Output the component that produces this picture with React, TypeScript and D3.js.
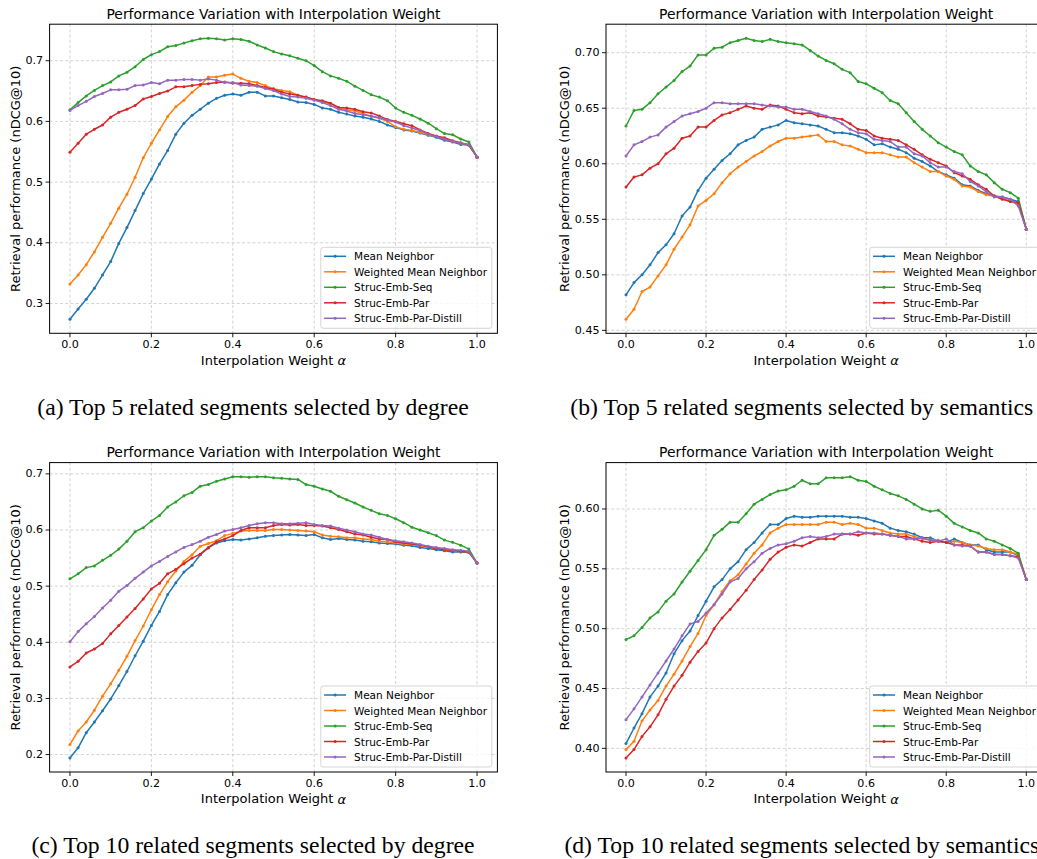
import React from 'react';
import * as d3 from 'd3';

// ---------- data ----------
const ALPHA = [0.0, 0.02, 0.04, 0.06, 0.08, 0.1, 0.12, 0.14, 0.16, 0.18, 0.2, 0.22, 0.24, 0.26, 0.28, 0.3, 0.32, 0.34, 0.36, 0.38, 0.4, 0.42, 0.44, 0.46, 0.48, 0.5, 0.52, 0.54, 0.56, 0.58, 0.6, 0.62, 0.64, 0.66, 0.68, 0.7, 0.72, 0.74, 0.76, 0.78, 0.8, 0.82, 0.84, 0.86, 0.88, 0.9, 0.92, 0.94, 0.96, 0.98, 1.0];
const SERIES_NAMES = ['Mean Neighbor', 'Weighted Mean Neighbor', 'Struc-Emb-Seq', 'Struc-Emb-Par', 'Struc-Emb-Par-Distill'];
const COLORS = ['#1f77b4', '#ff7f0e', '#2ca02c', '#d62728', '#9467bd'];
const X_TICKS = [0.0, 0.2, 0.4, 0.6, 0.8, 1.0];
const TITLE = 'Performance Variation with Interpolation Weight';
const Y_LABEL = 'Retrieval performance (nDCG@10)';
const X_LABEL = 'Interpolation Weight ';
const CAPTIONS = [
  '(a) Top 5 related segments selected by degree',
  '(b) Top 5 related segments selected by semantics',
  '(c) Top 10 related segments selected by degree',
  '(d) Top 10 related segments selected by semantics',
];

// (a) Top 5 by degree
const aMean = [0.274, 0.291, 0.307, 0.325, 0.347, 0.369, 0.399, 0.425, 0.453, 0.481, 0.505, 0.530, 0.552, 0.579, 0.597, 0.610, 0.620, 0.630, 0.638, 0.643, 0.645, 0.643, 0.648, 0.648, 0.642, 0.642, 0.639, 0.636, 0.632, 0.631, 0.628, 0.622, 0.620, 0.615, 0.612, 0.609, 0.607, 0.604, 0.600, 0.594, 0.590, 0.586, 0.584, 0.581, 0.577, 0.574, 0.569, 0.566, 0.562, 0.561, 0.541];
const aWeighted = [0.332, 0.347, 0.364, 0.385, 0.409, 0.432, 0.457, 0.480, 0.508, 0.540, 0.564, 0.586, 0.608, 0.624, 0.635, 0.648, 0.659, 0.673, 0.673, 0.676, 0.678, 0.671, 0.666, 0.664, 0.659, 0.654, 0.651, 0.649, 0.643, 0.640, 0.636, 0.632, 0.629, 0.622, 0.619, 0.617, 0.613, 0.608, 0.605, 0.600, 0.591, 0.587, 0.585, 0.582, 0.578, 0.575, 0.571, 0.567, 0.564, 0.561, 0.541];
const aSeq = [0.619, 0.631, 0.642, 0.651, 0.659, 0.665, 0.675, 0.681, 0.690, 0.702, 0.710, 0.715, 0.723, 0.725, 0.729, 0.733, 0.736, 0.737, 0.736, 0.734, 0.736, 0.735, 0.732, 0.726, 0.721, 0.715, 0.711, 0.708, 0.704, 0.700, 0.692, 0.682, 0.675, 0.671, 0.666, 0.658, 0.651, 0.644, 0.640, 0.634, 0.622, 0.615, 0.610, 0.604, 0.597, 0.588, 0.580, 0.578, 0.571, 0.566, 0.541];
const aPar = [0.549, 0.564, 0.579, 0.587, 0.594, 0.607, 0.615, 0.620, 0.626, 0.637, 0.641, 0.646, 0.650, 0.657, 0.657, 0.659, 0.661, 0.662, 0.664, 0.665, 0.663, 0.663, 0.662, 0.659, 0.656, 0.653, 0.648, 0.645, 0.643, 0.640, 0.636, 0.634, 0.630, 0.623, 0.622, 0.620, 0.616, 0.614, 0.609, 0.603, 0.600, 0.596, 0.593, 0.586, 0.580, 0.576, 0.573, 0.568, 0.565, 0.561, 0.541];
const aDistill = [0.618, 0.626, 0.633, 0.641, 0.646, 0.652, 0.652, 0.653, 0.659, 0.660, 0.664, 0.662, 0.668, 0.668, 0.669, 0.669, 0.668, 0.670, 0.668, 0.664, 0.664, 0.660, 0.659, 0.658, 0.654, 0.651, 0.645, 0.641, 0.640, 0.638, 0.635, 0.631, 0.626, 0.620, 0.617, 0.613, 0.611, 0.609, 0.606, 0.602, 0.599, 0.593, 0.589, 0.585, 0.579, 0.575, 0.571, 0.567, 0.564, 0.562, 0.541];

// (b) Top 5 by semantics
const bMean = [0.482, 0.493, 0.500, 0.509, 0.520, 0.527, 0.537, 0.553, 0.561, 0.576, 0.587, 0.595, 0.603, 0.609, 0.617, 0.621, 0.624, 0.631, 0.633, 0.635, 0.639, 0.637, 0.636, 0.635, 0.634, 0.631, 0.628, 0.628, 0.627, 0.625, 0.622, 0.617, 0.618, 0.615, 0.613, 0.610, 0.605, 0.602, 0.598, 0.593, 0.590, 0.587, 0.581, 0.580, 0.576, 0.573, 0.571, 0.570, 0.568, 0.566, 0.541];
const bWeighted = [0.460, 0.469, 0.485, 0.489, 0.499, 0.509, 0.523, 0.534, 0.545, 0.562, 0.567, 0.573, 0.583, 0.591, 0.597, 0.602, 0.607, 0.611, 0.616, 0.620, 0.623, 0.623, 0.624, 0.625, 0.626, 0.620, 0.620, 0.617, 0.616, 0.613, 0.610, 0.610, 0.610, 0.608, 0.606, 0.606, 0.601, 0.597, 0.593, 0.593, 0.589, 0.586, 0.580, 0.579, 0.575, 0.572, 0.571, 0.569, 0.566, 0.564, 0.541];
const bSeq = [0.634, 0.648, 0.649, 0.655, 0.663, 0.669, 0.675, 0.683, 0.688, 0.698, 0.698, 0.704, 0.705, 0.709, 0.711, 0.713, 0.711, 0.710, 0.712, 0.710, 0.709, 0.708, 0.707, 0.702, 0.697, 0.693, 0.690, 0.685, 0.682, 0.674, 0.672, 0.668, 0.664, 0.657, 0.654, 0.646, 0.638, 0.631, 0.625, 0.619, 0.615, 0.611, 0.608, 0.598, 0.593, 0.590, 0.583, 0.577, 0.574, 0.569, 0.541];
const bPar = [0.579, 0.588, 0.590, 0.596, 0.600, 0.609, 0.614, 0.623, 0.625, 0.633, 0.633, 0.639, 0.644, 0.646, 0.649, 0.652, 0.650, 0.649, 0.653, 0.652, 0.649, 0.646, 0.645, 0.646, 0.643, 0.642, 0.641, 0.640, 0.636, 0.631, 0.630, 0.625, 0.623, 0.622, 0.621, 0.617, 0.613, 0.608, 0.604, 0.601, 0.598, 0.592, 0.589, 0.586, 0.581, 0.577, 0.571, 0.568, 0.566, 0.565, 0.541];
const bDistill = [0.607, 0.617, 0.620, 0.624, 0.626, 0.633, 0.638, 0.643, 0.645, 0.647, 0.650, 0.655, 0.655, 0.654, 0.654, 0.654, 0.654, 0.653, 0.652, 0.651, 0.651, 0.649, 0.649, 0.647, 0.645, 0.643, 0.640, 0.636, 0.631, 0.628, 0.627, 0.622, 0.621, 0.620, 0.615, 0.615, 0.609, 0.607, 0.601, 0.597, 0.597, 0.593, 0.591, 0.584, 0.580, 0.575, 0.570, 0.570, 0.568, 0.562, 0.541];

// (c) Top 10 by degree
const cMean = [0.194, 0.212, 0.239, 0.258, 0.278, 0.299, 0.323, 0.348, 0.376, 0.402, 0.430, 0.455, 0.485, 0.506, 0.525, 0.537, 0.556, 0.568, 0.577, 0.581, 0.583, 0.582, 0.584, 0.586, 0.589, 0.590, 0.591, 0.592, 0.591, 0.590, 0.592, 0.586, 0.583, 0.585, 0.583, 0.582, 0.580, 0.579, 0.577, 0.576, 0.575, 0.573, 0.572, 0.569, 0.567, 0.565, 0.563, 0.561, 0.561, 0.560, 0.541];
const cWeighted = [0.218, 0.242, 0.258, 0.279, 0.304, 0.326, 0.350, 0.375, 0.403, 0.429, 0.458, 0.485, 0.508, 0.527, 0.544, 0.556, 0.571, 0.576, 0.581, 0.590, 0.594, 0.598, 0.599, 0.599, 0.599, 0.601, 0.601, 0.600, 0.599, 0.598, 0.597, 0.591, 0.589, 0.588, 0.586, 0.586, 0.584, 0.583, 0.580, 0.579, 0.577, 0.575, 0.574, 0.573, 0.570, 0.567, 0.565, 0.564, 0.562, 0.561, 0.541];
const cSeq = [0.513, 0.522, 0.533, 0.536, 0.546, 0.555, 0.566, 0.580, 0.597, 0.604, 0.616, 0.626, 0.641, 0.650, 0.661, 0.667, 0.678, 0.681, 0.687, 0.691, 0.695, 0.695, 0.694, 0.695, 0.695, 0.693, 0.692, 0.691, 0.690, 0.681, 0.678, 0.673, 0.669, 0.660, 0.654, 0.648, 0.641, 0.635, 0.629, 0.626, 0.620, 0.613, 0.605, 0.600, 0.595, 0.590, 0.582, 0.578, 0.573, 0.566, 0.541];
const cPar = [0.356, 0.366, 0.381, 0.388, 0.398, 0.415, 0.430, 0.445, 0.460, 0.477, 0.495, 0.505, 0.522, 0.530, 0.540, 0.550, 0.557, 0.569, 0.579, 0.584, 0.590, 0.599, 0.604, 0.604, 0.604, 0.608, 0.610, 0.609, 0.610, 0.608, 0.608, 0.607, 0.604, 0.601, 0.597, 0.593, 0.591, 0.587, 0.584, 0.583, 0.579, 0.577, 0.575, 0.573, 0.570, 0.567, 0.565, 0.564, 0.562, 0.561, 0.541];
const cDistill = [0.401, 0.419, 0.433, 0.446, 0.461, 0.475, 0.491, 0.501, 0.514, 0.525, 0.536, 0.544, 0.553, 0.561, 0.569, 0.574, 0.580, 0.587, 0.592, 0.598, 0.601, 0.604, 0.608, 0.611, 0.613, 0.613, 0.611, 0.611, 0.612, 0.613, 0.610, 0.608, 0.607, 0.603, 0.600, 0.597, 0.593, 0.591, 0.587, 0.583, 0.581, 0.579, 0.577, 0.574, 0.571, 0.569, 0.567, 0.565, 0.564, 0.562, 0.541];

// (d) Top 10 by semantics
const dMean = [0.404, 0.417, 0.429, 0.443, 0.452, 0.463, 0.479, 0.490, 0.498, 0.511, 0.523, 0.535, 0.541, 0.550, 0.556, 0.566, 0.572, 0.580, 0.587, 0.587, 0.592, 0.594, 0.593, 0.593, 0.594, 0.594, 0.594, 0.594, 0.593, 0.593, 0.592, 0.590, 0.588, 0.584, 0.582, 0.581, 0.579, 0.576, 0.576, 0.573, 0.572, 0.575, 0.572, 0.570, 0.570, 0.566, 0.564, 0.564, 0.564, 0.561, 0.541];
const dWeighted = [0.399, 0.406, 0.423, 0.432, 0.440, 0.452, 0.462, 0.473, 0.485, 0.496, 0.511, 0.520, 0.531, 0.540, 0.545, 0.554, 0.563, 0.570, 0.580, 0.584, 0.587, 0.587, 0.587, 0.587, 0.587, 0.589, 0.589, 0.587, 0.588, 0.587, 0.584, 0.584, 0.582, 0.580, 0.579, 0.579, 0.577, 0.575, 0.574, 0.574, 0.572, 0.573, 0.572, 0.570, 0.569, 0.567, 0.566, 0.566, 0.564, 0.562, 0.541];
const dSeq = [0.491, 0.494, 0.501, 0.509, 0.514, 0.523, 0.529, 0.539, 0.548, 0.557, 0.566, 0.578, 0.583, 0.589, 0.589, 0.596, 0.604, 0.608, 0.612, 0.615, 0.616, 0.619, 0.624, 0.621, 0.621, 0.626, 0.626, 0.626, 0.627, 0.624, 0.623, 0.619, 0.616, 0.613, 0.611, 0.608, 0.604, 0.600, 0.598, 0.599, 0.594, 0.588, 0.585, 0.582, 0.580, 0.575, 0.573, 0.570, 0.567, 0.563, 0.541];
const dPar = [0.392, 0.399, 0.410, 0.418, 0.428, 0.441, 0.452, 0.461, 0.472, 0.481, 0.488, 0.500, 0.509, 0.516, 0.524, 0.532, 0.541, 0.549, 0.558, 0.564, 0.568, 0.570, 0.569, 0.572, 0.575, 0.575, 0.575, 0.579, 0.579, 0.578, 0.580, 0.579, 0.579, 0.578, 0.577, 0.577, 0.575, 0.573, 0.572, 0.573, 0.572, 0.570, 0.570, 0.569, 0.564, 0.564, 0.562, 0.562, 0.561, 0.560, 0.541];
const dDistill = [0.424, 0.433, 0.443, 0.453, 0.463, 0.473, 0.483, 0.494, 0.504, 0.506, 0.513, 0.520, 0.529, 0.539, 0.542, 0.550, 0.556, 0.563, 0.567, 0.570, 0.571, 0.573, 0.576, 0.577, 0.576, 0.577, 0.579, 0.579, 0.579, 0.581, 0.580, 0.580, 0.579, 0.578, 0.577, 0.575, 0.575, 0.576, 0.574, 0.573, 0.575, 0.570, 0.569, 0.569, 0.564, 0.564, 0.562, 0.562, 0.561, 0.559, 0.541];

const Y_TICKS_A = [0.3, 0.4, 0.5, 0.6, 0.7];
const Y_TICKS_B = [0.45, 0.5, 0.55, 0.6, 0.65, 0.7];
const Y_TICKS_C = [0.2, 0.3, 0.4, 0.5, 0.6, 0.7];
const Y_TICKS_D = [0.4, 0.45, 0.5, 0.55, 0.6];

// ---------- layout ----------
const FONT = "'DejaVu Sans', sans-serif";
const SERIF = "'Liberation Serif', 'Times New Roman', serif";

type PanelCfg = {
  series: number[][];
  yTicks: number[];
  yDigits: number;
  box: { l: number; r: number; t: number; b: number };
  yLabelX: number;
  caption: string;
  captionX: number;
  captionY: number;
};

const ROW1 = { t: 24.2, b: 333.3 };
const ROW2 = { t: 462.6, b: 772 };
const COL1 = { l: 49.6, r: 497.4, yLabelX: 15, captionX: 253 };
const COL2 = { l: 606, r: 1046.3, yLabelX: 564.3, captionX: 801.8 };

const PANELS: PanelCfg[] = [
  { series: [aMean, aWeighted, aSeq, aPar, aDistill], yTicks: Y_TICKS_A, yDigits: 1, box: { l: COL1.l, r: COL1.r, ...ROW1 }, yLabelX: COL1.yLabelX, caption: CAPTIONS[0], captionX: COL1.captionX, captionY: 406.7 },
  { series: [bMean, bWeighted, bSeq, bPar, bDistill], yTicks: Y_TICKS_B, yDigits: 2, box: { l: COL2.l, r: COL2.r, ...ROW1 }, yLabelX: COL2.yLabelX, caption: CAPTIONS[1], captionX: COL2.captionX, captionY: 406.7 },
  { series: [cMean, cWeighted, cSeq, cPar, cDistill], yTicks: Y_TICKS_C, yDigits: 1, box: { l: COL1.l, r: COL1.r, ...ROW2 }, yLabelX: COL1.yLabelX, caption: CAPTIONS[2], captionX: COL1.captionX, captionY: 845 },
  { series: [dMean, dWeighted, dSeq, dPar, dDistill], yTicks: Y_TICKS_D, yDigits: 2, box: { l: COL2.l, r: COL2.r, ...ROW2 }, yLabelX: COL2.yLabelX, caption: CAPTIONS[3], captionX: COL2.captionX, captionY: 845 },
];

function Panel({ cfg }: { cfg: PanelCfg }) {
  const { box } = cfg;
  const x = d3.scaleLinear().domain([-0.05, 1.05]).range([box.l, box.r]);
  const all = cfg.series.flat();
  const [mn, mx] = d3.extent(all) as [number, number];
  const pad = (mx - mn) * 0.05;
  const y = d3.scaleLinear().domain([mn - pad, mx + pad]).range([box.b, box.t]);
  const line = d3
    .line<number>()
    .x((_, i) => x(ALPHA[i]))
    .y((d) => y(d));
  const fmtY = d3.format(`.${cfg.yDigits}f`);
  const fmtX = d3.format('.1f');
  const midX = (box.l + box.r) / 2;
  const midY = (box.t + box.b) / 2;

  // legend geometry
  const legW = 171;
  const legH = 81;
  const legR = box.r - 5.6;
  const legB = box.b - 5;
  const legL = legR - legW;
  const legT = legB - legH;

  return (
    <g>
      {/* grid */}
      <g stroke="#b0b0b0" strokeOpacity={0.7} strokeWidth={0.8} strokeDasharray="3,2.2">
        {X_TICKS.map((t) => (
          <line key={'gx' + t} x1={x(t)} x2={x(t)} y1={box.t} y2={box.b} />
        ))}
        {cfg.yTicks.map((t) => (
          <line key={'gy' + t} x1={box.l} x2={box.r} y1={y(t)} y2={y(t)} />
        ))}
      </g>
      {/* series */}
      {cfg.series.map((s, si) => (
        <g key={'s' + si}>
          <path d={line(s) || ''} fill="none" stroke={COLORS[si]} strokeWidth={1.5} strokeLinejoin="round" />
          {s.map((v, i) => (
            <circle key={i} cx={x(ALPHA[i])} cy={y(v)} r={1.5} fill={COLORS[si]} />
          ))}
        </g>
      ))}
      {/* frame */}
      <rect x={box.l} y={box.t} width={box.r - box.l} height={box.b - box.t} fill="none" stroke="#000" strokeWidth={1} />
      {/* x ticks */}
      {X_TICKS.map((t) => (
        <g key={'xt' + t}>
          <line x1={x(t)} x2={x(t)} y1={box.b} y2={box.b + 4} stroke="#000" strokeWidth={0.9} />
          <text x={x(t)} y={box.b + 11} fontFamily={FONT} fontSize={11.1} textAnchor="middle" dominantBaseline="central" fill="#000">
            {fmtX(t)}
          </text>
        </g>
      ))}
      {/* y ticks */}
      {cfg.yTicks.map((t) => (
        <g key={'yt' + t}>
          <line x1={box.l - 4} x2={box.l} y1={y(t)} y2={y(t)} stroke="#000" strokeWidth={0.9} />
          <text x={box.l - 6.5} y={y(t)} fontFamily={FONT} fontSize={11.1} textAnchor="end" dominantBaseline="central" fill="#000">
            {fmtY(t)}
          </text>
        </g>
      ))}
      {/* title */}
      <text x={midX} y={box.t - 10.3} fontFamily={FONT} fontSize={13.9} textAnchor="middle" dominantBaseline="central" fill="#000">
        {TITLE}
      </text>
      {/* x label */}
      <text x={midX} y={box.b + 26.7} fontFamily={FONT} fontSize={13} textAnchor="middle" dominantBaseline="central" fill="#000">
        {X_LABEL}
        <tspan fontStyle="italic">α</tspan>
      </text>
      {/* y label */}
      <text
        transform={`translate(${cfg.yLabelX},${midY}) rotate(-90)`}
        fontFamily={FONT}
        fontSize={13}
        textAnchor="middle"
        dominantBaseline="central"
        fill="#000"
      >
        {Y_LABEL}
      </text>
      {/* legend */}
      <g>
        <rect x={legL} y={legT} width={legW} height={legH} rx={2.5} fill="#fff" fillOpacity={0.8} stroke="#d0d0d0" strokeWidth={0.9} />
        {SERIES_NAMES.map((name, i) => {
          const cy = legT + 9 + i * 15.5;
          return (
            <g key={name}>
              <line x1={legL + 3.3} x2={legL + 25.3} y1={cy} y2={cy} stroke={COLORS[i]} strokeWidth={1.5} />
              <circle cx={legL + 14.3} cy={cy} r={1.5} fill={COLORS[i]} />
              <text x={legL + 33.3} y={cy} fontFamily={FONT} fontSize={10.5} dominantBaseline="central" fill="#000">
                {name}
              </text>
            </g>
          );
        })}
      </g>
      {/* caption */}
      <text x={cfg.captionX} y={cfg.captionY} fontFamily={SERIF} fontSize={23.7} textAnchor="middle" dominantBaseline="central" fill="#000">
        {cfg.caption}
      </text>
    </g>
  );
}

export default function App() {
  return (
    <div style={{ position: 'absolute', left: 0, top: 0, width: 1037, height: 859, overflow: 'hidden', background: '#fff' }}>
      <svg width={1037} height={859} viewBox="0 0 1037 859" style={{ display: 'block' }}>
        <rect x={0} y={0} width={1037} height={859} fill="#fff" />
        {PANELS.map((p, i) => (
          <Panel key={i} cfg={p} />
        ))}
      </svg>
    </div>
  );
}
